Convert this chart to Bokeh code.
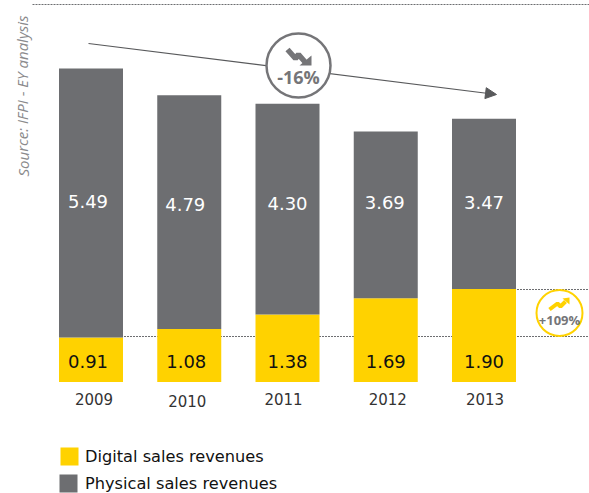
from bokeh.plotting import figure
from bokeh.models import Range1d, ColumnDataSource, Arrow, NormalHead
from bokeh.core.properties import value
from bokeh.embed import file_html
from bokeh.resources import INLINE
import math

years = [2009, 2010, 2011, 2012, 2013]
# bar heights as drawn in the picture (the 2012 physical bar is drawn shorter than its label says)
digital = [0.91, 1.08, 1.38, 1.71, 1.90]
physical = [5.49, 4.77, 4.30, 3.40, 3.47]
digital_labels = ["0.91", "1.08", "1.38", "1.69", "1.90"]
physical_labels = ["5.49", "4.79", "4.30", "3.69", "3.47"]
year_labels = ["2009", "2010", "2011", "2012", "2013"]
legend_labels = ["Digital sales revenues", "Physical sales revenues"]

GREY = "#6d6e71"
YELLOW = "#ffd200"
FONT = "DejaVu Sans"

W, H = 589, 493
PX_YEAR = 98.25
PX_UNIT = 49.0
X0, Y0 = 90.5, 381.5      # pixel of (2009, 0)

def X(px):
    return 2009 + (px - X0) / PX_YEAR

def Y(py):
    return (Y0 - py) / PX_UNIT

p = figure(width=W, height=H, output_backend="svg", toolbar_location=None,
           x_range=Range1d(X(0), X(W)), y_range=Range1d(Y(H), Y(0)),
           min_border=0, outline_line_color=None, background_fill_color="white")
p.axis.visible = False
p.grid.visible = False

# reference lines behind the bars
dot = dict(line_color="#6d6e71", line_width=1, line_dash="2 1")
p.line([X(32), X(589)], [Y(4), Y(4)], **dot)
p.line([2009, X(589)], [Y(336), Y(336)], **dot)
p.line([2013, X(589)], [Y(289), Y(289)], **dot)

# bars
bar_w = 64 / PX_YEAR
src = ColumnDataSource(dict(
    x=years, d=digital, top=[a + b for a, b in zip(digital, physical)],
    dl=digital_labels, pl=physical_labels, base=[0] * 5,
    ddx=[-3, -3, 0, 0, 0], ddy=[-21] * 5,
    pdx=[-3, -4, 0, -1, 0], pdy=[-181, -178, -179, -180, -180],
    ydx=[3, -2, -4, 2, 1], ydy=[17, 19, 17, 17, 17], yl=year_labels,
))
p.vbar(x="x", bottom=0, top="d", width=bar_w, fill_color=YELLOW, line_color=None, source=src)
p.vbar(x="x", bottom="d", top="top", width=bar_w, fill_color=GREY, line_color=None, source=src)
p.text(x="x", y="base", text="dl", x_offset="ddx", y_offset="ddy", source=src,
       text_align="center", text_baseline="middle",
       text_color="#111111", text_font=value(FONT), text_font_size="18px")
p.text(x="x", y="base", text="pl", x_offset="pdx", y_offset="pdy", source=src,
       text_align="center", text_baseline="middle",
       text_color="white", text_font=value(FONT), text_font_size="18px")

# year labels (slightly irregular in the reference)
p.text(x="x", y="base", text="yl", x_offset="ydx", y_offset="ydy", source=src,
       text_align="center", text_baseline="middle", text_color="#333333",
       text_font=value(FONT), text_font_size="15px")

# trend arrow
p.add_layout(Arrow(end=NormalHead(size=11, fill_color="#58595b", line_color="#58595b"),
                   x_start=X(88), y_start=Y(43), x_end=X(496), y_end=Y(94),
                   line_color="#58595b", line_width=1.2, level="underlay"))

# -16% badge
p.scatter([X(298)], [Y(65)], size=64, marker="circle", fill_color="white",
          line_color="#757578", line_width=2.5)
p.line([X(p_) for p_ in (287, 295, 298, 305)], [Y(q) for q in (49, 58, 54, 62)],
       line_color="#757578", line_width=5.5)
p.patch([X(311), X(311), X(299)], [Y(55), Y(65), Y(65)], fill_color="#757578", line_color=None)
p.text([X(298)], [Y(76)], text=["-16%"], text_align="center", text_baseline="middle",
       text_color="#757578", text_font=value("Open Sans"), text_font_style="bold", text_font_size="18px")

# +109% badge
p.scatter([X(559)], [Y(312.5)], size=46, marker="circle", fill_color="white",
          line_color=YELLOW, line_width=2)
p.line([X(p_) for p_ in (549, 557, 560, 565)], [Y(q) for q in (309, 303, 306, 301)],
       line_color=YELLOW, line_width=4)
p.patch([X(569), X(562), X(569)], [Y(297), Y(298), Y(304)], fill_color=YELLOW, line_color=None)
p.text([X(559)], [Y(319)], text=["+109%"], text_align="center", text_baseline="middle",
       text_color="#757578", text_font=value("Open Sans"), text_font_style="bold", text_font_size="13px")

# source note
p.text([X(22)], [Y(176)], text=["Source: IFPI - EY analysis"], angle=[math.pi / 2],
       text_align="left", text_baseline="middle", text_color="#8a8a8c",
       text_font=value("Open Sans"), text_font_style="italic", text_font_size="15px")

# legend
p.quad(left=[X(60), X(59)], right=[X(78), X(77)], top=[Y(447), Y(474)], bottom=[Y(465), Y(492)],
       fill_color=[YELLOW, GREY], line_color=None)
p.text([X(84.5), X(84.5)], [Y(456), Y(483)], text=legend_labels, text_align="left", text_baseline="middle",
       text_color="#111111", text_font=value(FONT), text_font_size="16.2px")

open("out.html", "w").write(file_html(p, INLINE))
